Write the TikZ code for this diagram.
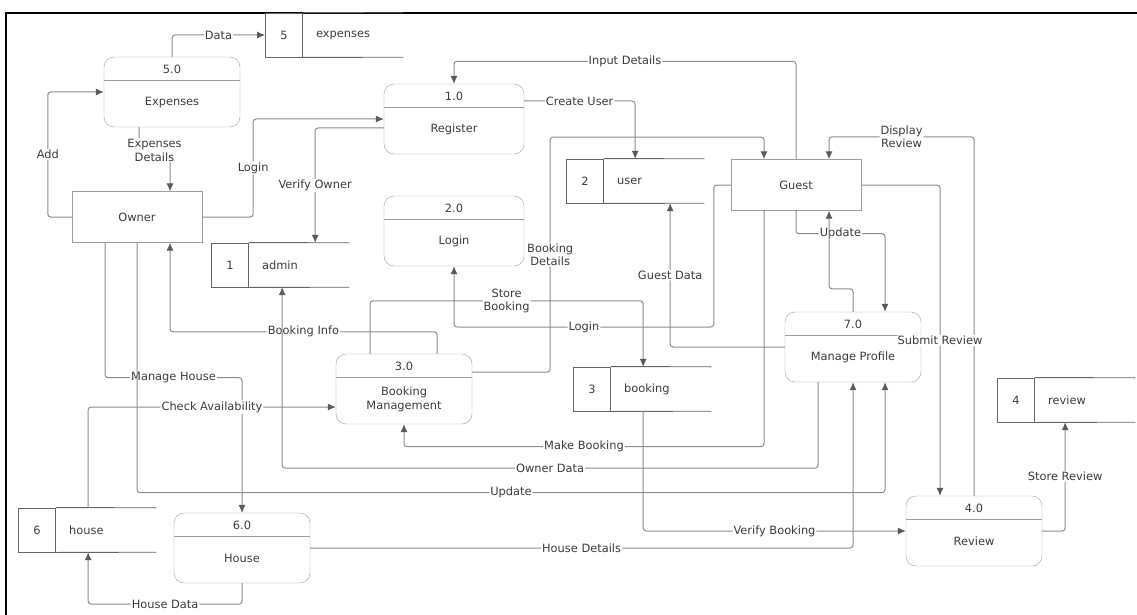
\documentclass[tikz,border=0pt]{standalone}
\usepackage{fontspec}
\setmainfont{DejaVu Sans}
\usetikzlibrary{positioning,arrows.meta}
\definecolor{linec}{HTML}{8C8C8C}
\definecolor{tipc}{HTML}{5A5A5A}
\definecolor{boxc}{HTML}{9E9E9E}
\definecolor{storec}{HTML}{666666}
\definecolor{textc}{HTML}{3C3C3C}

\begin{document}
\begin{tikzpicture}
    [
    x=1pt, y=-1pt,
    every node/.style={font=\fontsize{11.4}{13.5}\selectfont, text=textc},
    proc/.style={draw=boxc, rounded corners=10pt, minimum width=136pt, minimum height=70pt, inner sep=0pt,
      path picture={\draw[boxc] ([yshift=-23pt]path picture bounding box.north west) -- ([yshift=-23pt]path picture bounding box.north east);}},
    num/.style={anchor=center, yshift=-13pt},
    ttl/.style={anchor=center, yshift=25pt, align=center},
    ent/.style={draw=boxc, minimum width=130pt, minimum height=51pt},
    cell/.style={draw=storec, line width=0.9pt, minimum width=37pt, minimum height=44pt, inner sep=0pt},
    sname/.style={minimum height=44pt, text width=74pt, inner xsep=13pt, inner ysep=0pt, align=left},
    flow/.style={draw=linec, line width=1pt, rounded corners=3pt, -{Latex[length=8pt,width=7pt,color=tipc]}},
    lbl/.style={fill=white, inner sep=1pt, align=center}
    ]
    \useasboundingbox (0,0) rectangle (1137,615);
    \draw [line width=2.5pt] (6,615) -- (6,13) -- (1137,13);

    \node (p5) at (172,92) [proc, label={[num]north:5.0}, label={[ttl]south:Expenses}] {};
    \node (p1) at (454,119) [proc, minimum width=140pt, label={[num]north:1.0}, label={[ttl]south:Register}] {};
    \node (p2) at (454,231) [proc, minimum width=140pt, label={[num]north:2.0}, label={[ttl]south:Login}] {};
    \node (p3) at (404,389) [proc, label={[num]north:3.0}, label={[ttl]south:Booking\\Management}] {};
    \node (p7) at (853,347) [proc, label={[num]north:7.0}, label={[ttl]south:Manage Profile}] {};
    \node (p4) at (974,531) [proc, label={[num]north:4.0}, label={[ttl]south:Review}] {};
    \node (p6) at (242,548) [proc, label={[num]north:6.0}, label={[ttl]south:House}] {};

    \node (owner) at (137,217) [ent] {Owner};
    \node (guest) at (796,185) [ent] {Guest};

    \node (n5) at (284,35) [cell] {5};
    \node (s5) [sname, right=0pt of n5] {expenses};
    \node (n2) at (585,181) [cell] {2};
    \node (s2) [sname, right=0pt of n2] {user};
    \node (n1) at (230,265) [cell] {1};
    \node (s1) [sname, right=0pt of n1] {admin};
    \node (n3) at (592,389) [cell] {3};
    \node (s3) [sname, right=0pt of n3] {booking};
    \node (n4) at (1016,400) [cell] {4};
    \node (s4) [sname, right=0pt of n4] {review};
    \node (n6) at (37,530) [cell] {6};
    \node (s6) [sname, right=0pt of n6] {house};
    \foreach \i in {1,...,6}
      \draw [storec, line width=0.9pt] (n\i.north east) -- (s\i.north east) (n\i.south east) -- (s\i.south east);

    \draw [flow] (p5.north) |- node[lbl, pos=0.75] {Data} (n5.west);
    \draw [flow] (owner.west) -- ++(-24,0) |- node[lbl, pos=0.25] {Add} (p5.west);
    \draw [flow] ([xshift=-33pt]p5.south) -- ++(0,23) -| node[lbl, pos=0.25] {Expenses\\Details} ([xshift=33pt]owner.north);
    \draw [flow] (owner.east) -- ++(51,0) |- node[lbl, pos=0.25] {Login} (p1.west);
    \draw [flow] ([yshift=-9pt]p1.west) -| node[lbl, pos=0.75] {Verify Owner} ([xshift=16pt]s1.north);
    \draw [flow] (guest.north) -- ++(0,-98) -| node[lbl, pos=0.25] {Input Details} (p1.north);
    \draw [flow] ([yshift=18pt]p1.east) -| node[lbl, pos=0.25] {Create User} ([xshift=-19pt]s2.north);
    \draw [flow] ([yshift=17pt]p3.east) -- ++(78,0) -- node[lbl, pos=0.5] {Booking\\Details} ++(0,-235) -| ([xshift=-32pt]guest.north);
    \draw [flow] (p4.north) -- ++(0,-359) -| node[lbl, pos=0.25] {Display\\Review} ([xshift=33pt]guest.north);
    \draw [flow] (guest.east) -| node[lbl, pos=0.75] {Submit Review} ([xshift=-34pt]p4.north);
    \draw [flow] (guest.south) -- ++(0,23) -| node[lbl, pos=0.25] {Update} ([xshift=32pt]p7.north);
    \draw [flow] (p7.north) -- ++(0,-23) -| ([xshift=33pt]guest.south);
    \draw [flow] (p7.west) -| node[lbl, pos=0.75] {Guest Data} ([xshift=16pt]s2.south);
    \draw [flow] (guest.west) -- ++(-17,0) -- ++(0,142) -| node[lbl, pos=0.25] {Login} (p2.south);
    \draw [flow] ([xshift=-34pt]p3.north) -- ++(0,-53) -| node[lbl, pos=0.25] {Store\\Booking} ([xshift=-18pt]s3.north);
    \draw [flow] ([xshift=33pt]p3.north) -- ++(0,-22) -| node[lbl, pos=0.25] {Booking Info} ([xshift=33pt]owner.south);
    \draw [flow] ([xshift=-32pt]owner.south) -- ++(0,135) -| node[lbl, pos=0.25] {Manage House} (p6.north);
    \draw [flow] ([xshift=-18pt]s6.north) |- node[lbl, pos=0.75] {Check Availability} ([yshift=-18pt]p3.west);
    \draw [flow] ([xshift=-32pt]guest.south) -- ++(0,236) -| node[lbl, pos=0.25] {Make Booking} (p3.south);
    \draw [flow] ([xshift=-35pt]p7.south) -- ++(0,86) -| node[lbl, pos=0.25] {Owner Data} ([xshift=-17pt]s1.south);
    \draw [flow] (owner.south) -- ++(0,250) -| node[lbl, pos=0.25] {Update} ([xshift=32pt]p7.south);
    \draw [flow] (p6.east) -| node[lbl, pos=0.25] {House Details} (p7.south);
    \draw [flow] ([xshift=-18pt]s3.south) |- node[lbl, pos=0.75] {Verify Booking} (p4.west);
    \draw [flow] (p4.east) -| node[lbl, pos=0.75] {Store Review} ([xshift=-20pt]s4.south);
    \draw [flow] (p6.south) -- ++(0,21) -| node[lbl, pos=0.25] {House Data} ([xshift=-18pt]s6.south);
  \end{tikzpicture}
\end{document}
